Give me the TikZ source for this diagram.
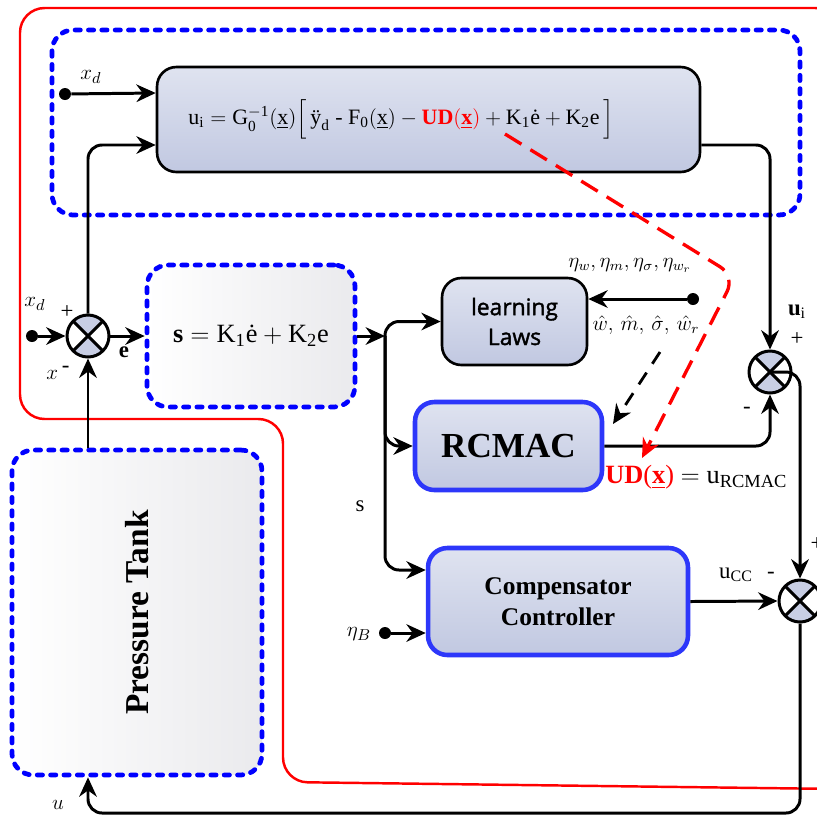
\documentclass[tikz,border=0pt]{standalone}
\usepackage{amsmath}
\usepackage{amssymb}
\usepackage{fontspec}
\setmainfont{Liberation Serif}
\newfontfamily\lawsfont{Open Sans}[FakeBold=1.6]
\usetikzlibrary{arrows.meta}

\definecolor{boxtop}{RGB}{223,227,240}
\definecolor{boxbot}{RGB}{193,200,225}
\definecolor{plantgray}{RGB}{234,234,237}
\definecolor{rcblue}{RGB}{45,55,250}
\definecolor{sumfill}{RGB}{200,206,228}

\begin{document}
\begin{tikzpicture}[x=0.02cm, y=-0.02cm,
  wire/.style={line width=1.7pt, rounded corners=8pt},
  sig/.style={wire, -{Stealth[length=11pt,width=10pt]}},
  blockbox/.style={draw, line width=1.5pt, rounded corners=11pt, top color=boxtop, bottom color=boxbot, align=center},
  ctrlbox/.style={blockbox, draw=rcblue, line width=2.6pt, font=\bfseries},
  dotbox/.style={draw=blue, line width=2.7pt, dash pattern=on 3pt off 4.6pt, line cap=round, rounded corners=12pt},
  plantbox/.style={dotbox, left color=white, right color=plantgray, align=center},
  pin/.style={circle, fill, inner sep=0pt, minimum size=0.24cm},
  lbl/.style={inner sep=1pt, font=\fontsize{13}{15}\selectfont},
  sumjn/.style={circle, draw, line width=1.7pt, fill=white, minimum size=0.84cm, inner sep=0pt,
    path picture={
      \fill[sumfill] (path picture bounding box.center) -- (path picture bounding box.north west) -- (path picture bounding box.north east) -- cycle;
      \fill[sumfill] (path picture bounding box.center) -- (path picture bounding box.south west) -- (path picture bounding box.south east) -- cycle;
      \draw[line width=1.7pt] (path picture bounding box.north west) -- (path picture bounding box.south east)
        (path picture bounding box.north east) -- (path picture bounding box.south west);}}
]
  \useasboundingbox (0,0) rectangle (817,816);
  \clip (0,0) rectangle (817,816);

  % outer red region
  \draw[red, line width=1.4pt, rounded corners=14pt] (20,8) -- (840,8) -- (840,789) -- (283,782) -- (283,419) -- (20,419) -- cycle;

  % control law block
  \draw[dotbox] (52,30) rectangle (800,215);
  \node[blockbox, minimum width=10.86cm, minimum height=2.1cm, font=\fontsize{12.5}{15}\selectfont] (law) at (428.5,119.5)
    {$\mathrm{u_i = G_0^{-1}(\underline{x})\Big[\,\text{ÿ}_d\ \text{-}\ F_0(\underline{x}) - {\color{red}\mathbf{UD}(\underline{\mathbf{x}})} + K_1\text{ė} + K_2e\,\Big]}$\hspace*{1.1cm}};

  \node[pin] (pxd1) at (65,94) {};
  \node[lbl] (xd1) at (91,77) {$x_d$};

  \node[sumjn] (s1) at (88,336) {};
  \node[pin] (pxd2) at (32,336) {};
  \node[lbl] (xd2) at (35,304) {$x_d$};
  \node[lbl] (s1p) at (67,312) {+};
  \node[lbl] (xfb) at (58,373) {$x$\,\raisebox{0.3em}{-}};
  \node[lbl] (elab) at (124,352) {$\mathbf{e}$};

  \node[plantbox, minimum width=4.16cm, minimum height=2.84cm, font=\fontsize{15}{18}\selectfont] (sbox) at (251,336)
    {$\mathbf{s} = \mathrm{K_1\text{ė} + K_2e}$};
  \coordinate (br) at (385,336);

  \node[blockbox, minimum width=2.9cm, minimum height=1.74cm, font=\lawsfont\fontsize{13}{17}\selectfont] (lbox) at (514.5,321.5) {learning\\Laws};
  \node[pin] (peta) at (693,299) {};
  \node[lbl, font=\fontsize{12}{14}\selectfont] (etas) at (630,265) {$\eta_w, \eta_m, \eta_\sigma, \eta_{w_r}$};
  \node[lbl, font=\fontsize{12}{14}\selectfont] (hats) at (646,325) {$\hat{w},\, \hat{m},\, \hat{\sigma},\, \hat{w}_r$};

  \node[ctrlbox, minimum width=3.74cm, minimum height=1.76cm, font=\bfseries\fontsize{20}{22}\selectfont] (rbox) at (508.5,446) {RCMAC};
  \node[anchor=west, inner sep=0pt, font=\fontsize{15}{17}\selectfont] (udlab) at (605,477)
    {\textcolor{red}{\textbf{UD}(\underline{\textbf{x}})} $=$ u$_{\text{RCMAC}}$};

  \node[ctrlbox, minimum width=5.2cm, minimum height=2.14cm, font=\bfseries\fontsize{14.5}{18}\selectfont] (cbox) at (558,601.5) {Compensator\\Controller};
  \node[pin] (petaB) at (385,633) {};
  \node[lbl] (etaB) at (359,634) {$\eta_B$};
  \node[lbl] (slab) at (360,506) {s};

  \node[sumjn] (s2) at (770,372) {};
  \node[lbl] (uilab) at (797,312) {$\mathbf{u}_{\mathrm{i}}$};
  \node[lbl] (s2p) at (797,339) {+};
  \node[lbl] (s2m) at (747,410) {-};

  \node[sumjn] (s3) at (800,601) {};
  \node[lbl] (ucc) at (736,575) {u$_{\text{CC}}$};
  \node[lbl] (s3m) at (771,575) {-};
  \node[lbl] (s3p) at (817,544) {+};

  \node[plantbox, minimum width=5cm, minimum height=6.5cm, font=\bfseries\fontsize{19}{21}\selectfont] (tank) at (137,612.5)
    {\rotatebox{90}{Pressure Tank}};
  \coordinate (ubase) at (800,813);
  \node[lbl] (ulab) at (58,805) {$u$};

  \draw[sig] (pxd1) -- ([yshift=0.53cm]law.west);
  \draw[sig] (s1.north) |- ([yshift=-0.51cm]law.west);
  \draw[sig] ([yshift=-0.51cm]law.east) -| (s2.north);
  \draw[sig] (pxd2) -- (s1.west);
  \draw[sig] (s1.east) -- (sbox.west);
  \draw[sig] (sbox.east) -- (br);
  \draw[sig] (br) |- (lbox.west);
  \draw[sig] (br) |- (rbox.west);
  \draw[sig] (br) |- ([yshift=0.63cm]cbox.west);
  \draw[sig] (peta) -- (lbox.east |- peta);
  \draw[sig] (petaB) -- (petaB -| cbox.west);
  \draw[sig] (rbox.east) -| (s2.south);
  \draw[sig] (s2.center) -| (s3.north);
  \draw[sig] (cbox.east) -- (s3.west);
  \draw[sig] (s3.south) -- (ubase) -| (s1 |- tank.south);
  \draw[sig] (s1 |- tank.north) -- (s1.south);

  % adaptive signal paths
  \coordinate (udsrc) at (505,134);
  \coordinate (udbend) at (735,276);
  \coordinate (udtip) at (642,458);
  \draw[red, line width=1.9pt, dash pattern=on 11pt off 6pt, rounded corners=10pt, -{Stealth[length=11pt,width=10pt]}] (udsrc) -- (udbend) -- (udtip);
  \coordinate (hatsrc) at (660,352);
  \coordinate (hattip) at (613,424);
  \draw[line width=1.6pt, dash pattern=on 8pt off 6pt, -{Stealth[length=11pt,width=10pt]}] (hatsrc) -- (hattip);
\end{tikzpicture}
\end{document}
